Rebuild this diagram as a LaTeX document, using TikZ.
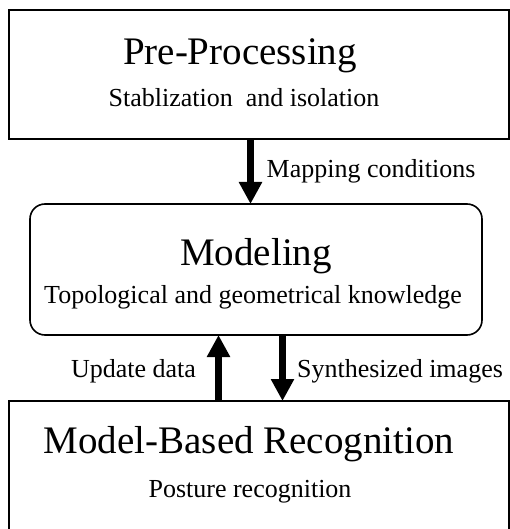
\documentclass[tikz,border=0pt]{standalone}
\usepackage{fontspec}
\setmainfont{Liberation Serif}
\usetikzlibrary{arrows.meta}
\begin{document}
\begin{tikzpicture}[x=1pt,y=-1pt,
  box/.style={draw,line width=2pt,inner sep=0pt,outer sep=0pt},
  rbox/.style={draw,line width=1.6pt,rounded corners=15pt,inner sep=0pt,outer sep=0pt},
  title/.style={anchor=base,inner sep=0pt,font=\fontsize{39}{45}\selectfont},
  sub/.style={anchor=base,inner sep=0pt,font=\fontsize{26}{30}\selectfont},
  lab/.style={anchor=base,inner sep=0pt,font=\fontsize{26}{30}\selectfont},
  arr/.style={line width=7.5pt,-{Triangle[width=22pt,length=22pt]}}]
\useasboundingbox (0,0) rectangle (510,529);
\begin{scope}
\clip (0,0) rectangle (510,529);
\node[box,minimum width=500pt,minimum height=129pt] (pre) at (259,74.5) {};
\node[rbox,minimum width=452pt,minimum height=131pt] (mod) at (256,269.5) {};
\node[box,minimum width=500pt,minimum height=150pt] (rec) at (259,476) {};
\end{scope}
\node[title] (preT) at (240,65) {Pre-Processing};
\node[sub] (preS) at (244,107) {Stablization~ and isolation};
\node[title] (modT) at (256,265) {Modeling};
\node[sub] (modS) at (253,303) {Topological and geometrical knowledge};
\node[title] (recT) at (249,453) {Model-Based Recognition};
\node[sub] (recS) at (250,497) {Posture recognition};
\draw[arr] ([xshift=-8.5pt]pre.south) -- ([xshift=-5.5pt]mod.north);
\draw[arr] ([xshift=-40.5pt]rec.north) -- ([xshift=-37.5pt]mod.south);
\draw[arr] ([xshift=26.5pt]mod.south) -- ([xshift=23.5pt]rec.north);
\node[lab] (l1) at (371,178) {Mapping conditions};
\node[lab] (l2) at (133.5,377) {Update data};
\node[lab] (l3) at (400,377) {Synthesized images};
\end{tikzpicture}
\end{document}
